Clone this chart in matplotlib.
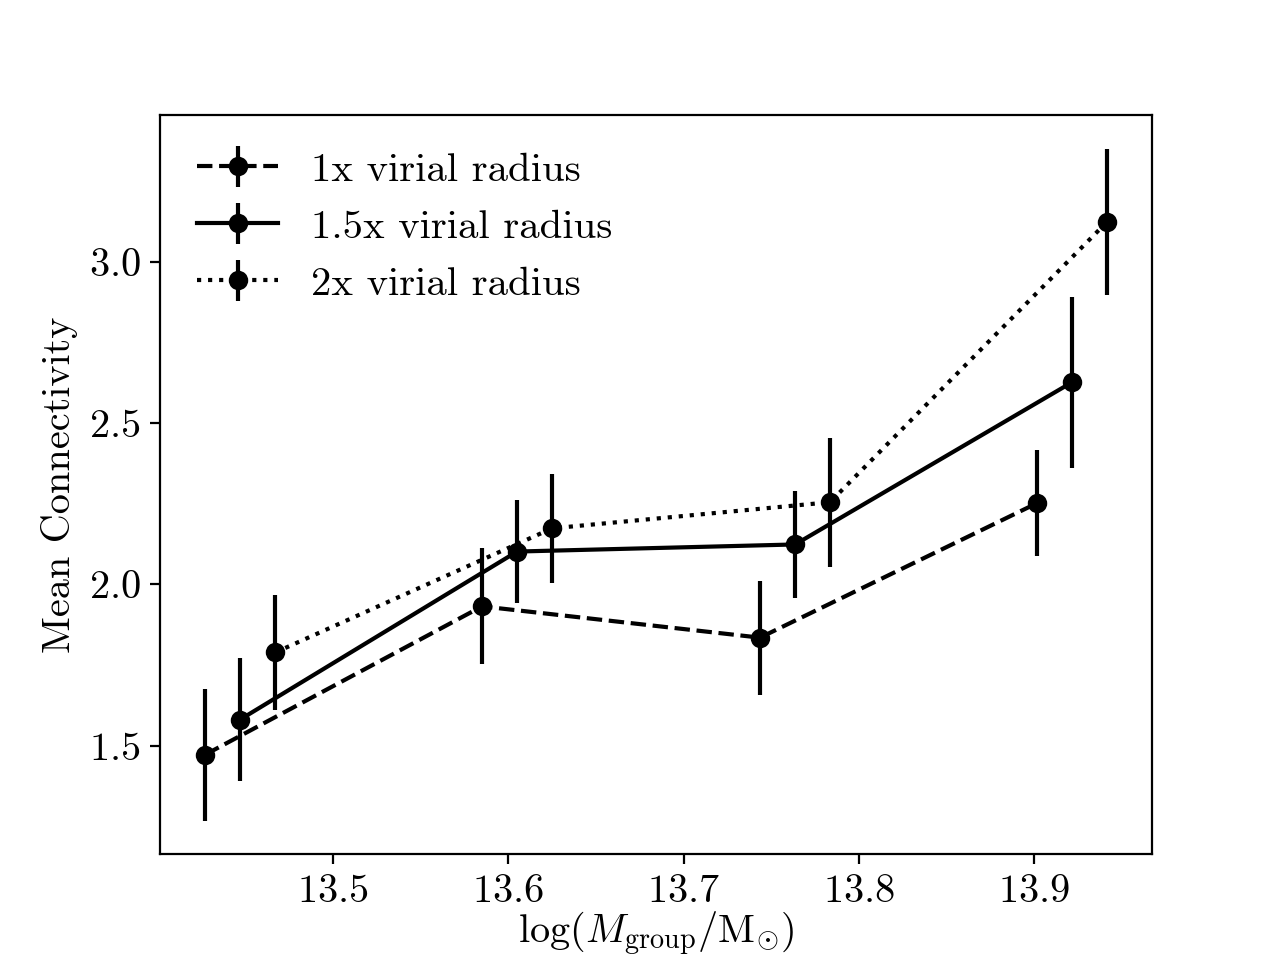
import matplotlib
matplotlib.use('Agg')
import matplotlib.pyplot as plt

plt.rcParams['font.family'] = 'serif'
plt.rcParams['font.serif'] = ['cmr10']
plt.rcParams['mathtext.fontset'] = 'cm'
plt.rcParams['axes.formatter.use_mathtext'] = True
plt.rcParams['font.size'] = 14.5

# log group mass (bin centres, slightly offset per radius)
mass_1x = [13.427, 13.585, 13.7436, 13.9016]
mass_15x = [13.447, 13.605, 13.7636, 13.9216]
mass_2x = [13.467, 13.625, 13.7835, 13.9415]

conn_1x = [1.472, 1.932, 1.835, 2.252]
err_1x = [0.205, 0.18, 0.177, 0.165]

conn_15x = [1.581, 2.102, 2.124, 2.627]
err_15x = [0.19, 0.16, 0.165, 0.265]

conn_2x = [1.789, 2.174, 2.255, 3.124]
err_2x = [0.177, 0.17, 0.2, 0.227]

fig, ax = plt.subplots(figsize=(6.4, 4.8), dpi=200)

ax.errorbar(mass_1x, conn_1x, yerr=err_1x, fmt='o', ls='--', color='k',
            label='1x virial radius')
ax.errorbar(mass_15x, conn_15x, yerr=err_15x, fmt='o', ls='-', color='k',
            label='1.5x virial radius')
ax.errorbar(mass_2x, conn_2x, yerr=err_2x, fmt='o', ls=':', color='k',
            label='2x virial radius')

ax.set_xlabel(r'$\log(M_{\rm group}/{\rm M}_{\odot})$', labelpad=0)
ax.set_ylabel('Mean Connectivity')
ax.legend(loc='upper left', frameon=False, fontsize=14.7)

fig.savefig('out.png', dpi=200)
